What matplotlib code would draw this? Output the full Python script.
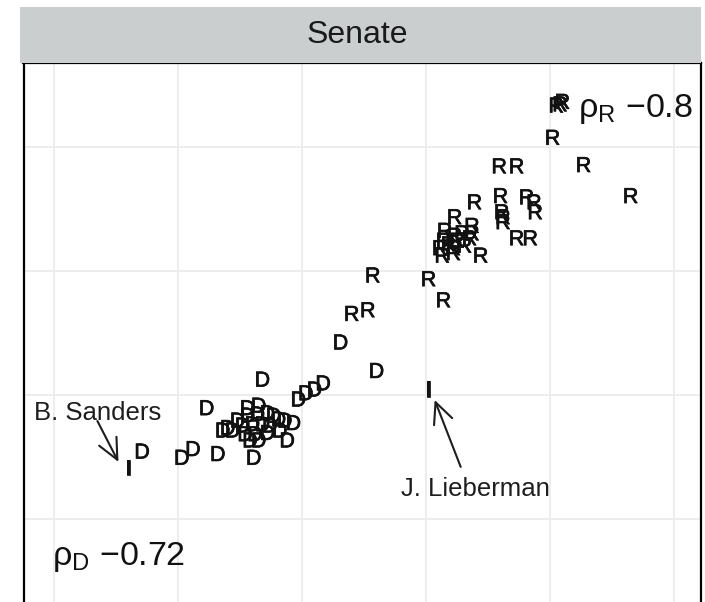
import matplotlib
matplotlib.use("Agg")
import matplotlib.pyplot as plt
from matplotlib.patches import Rectangle
import matplotlib.patheffects as pe

plt.rcParams['font.family'] = ['Liberation Sans', 'DejaVu Sans']
plt.rcParams['mathtext.fontset'] = 'custom'
plt.rcParams['mathtext.rm'] = 'Liberation Sans'

# Republican senators
rep_x = [4.05, 4.08, 4.10, 4.02, 4.27, 4.65, 3.59, 3.73, 3.39, 3.60,
         3.61, 3.62, 3.62, 3.81, 3.87, 3.88, 3.73, 3.84,
         3.23, 3.37, 3.37, 3.15, 3.23, 3.14, 3.25, 3.35, 3.11, 3.22,
         3.31, 3.13, 3.22, 3.44, 3.29, 3.18,
         2.57, 3.02, 3.14, 2.40, 2.53]
rep_y = [3.34, 3.35, 3.37, 3.08, 2.86, 2.61, 2.85, 2.85, 2.56, 2.61,
         2.48, 2.44, 2.40, 2.60, 2.56, 2.48, 2.27, 2.27,
         2.44, 2.37, 2.31, 2.33, 2.29, 2.25, 2.25, 2.27, 2.19, 2.19,
         2.21, 2.13, 2.15, 2.13, 2.31, 2.22,
         1.97, 1.94, 1.77, 1.66, 1.69]

# Democratic senators
dem_x = [2.31, 2.60, 2.17, 2.10, 2.03, 1.97, 1.68, 1.23, 0.71, 1.03,
         1.12, 1.32, 1.61,
         1.56, 1.65, 1.56, 1.64, 1.72, 1.40, 1.44, 1.52, 1.60, 1.68,
         1.77, 1.81, 1.86, 1.93, 1.54, 1.62, 1.72, 1.82, 1.58, 1.88,
         1.36, 1.48, 1.65, 1.74]
dem_y = [1.43, 1.20, 1.10, 1.05, 1.02, 0.97, 1.13, 0.90, 0.55, 0.50,
         0.57, 0.53, 0.50,
         0.90, 0.92, 0.84, 0.85, 0.86, 0.74, 0.72, 0.76, 0.77, 0.77,
         0.84, 0.81, 0.80, 0.78, 0.69, 0.69, 0.70, 0.72, 0.64, 0.64,
         0.72, 0.80, 0.64, 0.76]

# Independents
ind_names = ["B. Sanders", "J. Lieberman"]
ind_x = [0.60, 3.02]
ind_y = [0.42, 1.05]
label_x = [0.35, 3.40]
label_y = [0.87, 0.26]
arrow_from = [(0.35, 0.79), (3.28, 0.42)]
arrow_to = [(0.52, 0.46), (3.07, 0.96)]

rho_labels = [r"$\mathregular{\rho_R}$ $\mathregular{-0.8}$",
              r"$\mathregular{\rho_D}$ $\mathregular{-0.72}$"]
rho_x = [4.23, -0.02]
rho_y = [3.24, -0.37]

W, H = 705, 602
fig = plt.figure(figsize=(W / 100, H / 100), dpi=100)

# panel placement in pixels
px_left, px_right, px_top, px_bottom = 23.5, 701, 62.5, 618.2
ax = fig.add_axes([px_left / W, 1 - px_bottom / H,
                   (px_right - px_left) / W, (px_bottom - px_top) / H])
ax.set_xlim(-0.246, 5.218)
ax.set_ylim(-0.8, 3.681)
ax.set_xticks([0, 1, 2, 3, 4, 5])
ax.set_yticks([0, 1, 2, 3])
ax.grid(True, color='#ececec', lw=1.3)
ax.set_axisbelow(True)
ax.tick_params(length=0, labelbottom=False, labelleft=False)
for s in ax.spines.values():
    s.set_color('black')
    s.set_linewidth(1.6)

# facet strip
fig.patches.append(Rectangle((20 / W, 1 - 62.5 / H), (px_right - 20) / W, 55.5 / H,
                             transform=fig.transFigure, facecolor='#cacecf',
                             edgecolor='none', zorder=0))
fig.text(357 / W, 1 - 35 / H, "Senate", ha='center',
         va='center', fontsize=23, color='#1a1a1a')

ink = [pe.withStroke(linewidth=0.5, foreground='#111111')]
letter_size = 15.5


def put(ch, x, y, size=letter_size, weight='normal'):
    ax.annotate(ch, (x, y), xytext=(0, -0.716 * size / 2), textcoords='offset points',
                ha='center', va='baseline', fontsize=size, color='#111111',
                fontweight=weight, path_effects=ink)


for x, y in zip(rep_x, rep_y):
    put("R", x, y)
for x, y in zip(dem_x, dem_y):
    put("D", x, y)
for x, y in zip(ind_x, ind_y):
    put("I", x, y, size=16, weight='bold')

for name, lx, ly, a0, a1 in zip(ind_names, label_x, label_y, arrow_from, arrow_to):
    ax.annotate(name, (lx, ly), xytext=(0, -0.716 * 18.5 / 2), textcoords='offset points',
                ha='center', va='baseline', fontsize=18.5, color='#1e1e1e')
    ax.annotate('', xy=a1, xytext=a0,
                arrowprops=dict(arrowstyle='->,head_length=0.75,head_width=0.35',
                                lw=1.5, color='#1e1e1e', mutation_scale=20,
                                shrinkA=0, shrinkB=0))

for t, x, y in zip(rho_labels, rho_x, rho_y):
    ax.text(x, y, t, ha='left', va='baseline', fontsize=24.5, color='#111111')

fig.savefig("out.png", dpi=100)
